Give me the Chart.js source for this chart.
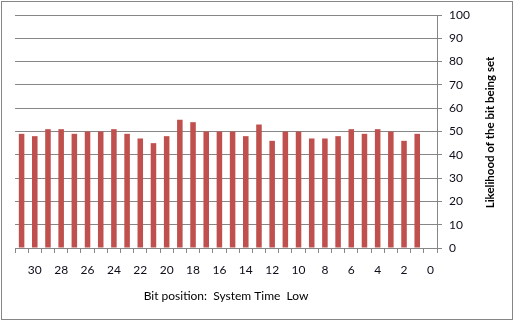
<!DOCTYPE html>
<html>
<head>
<meta charset="utf-8">
<script src="https://cdn.jsdelivr.net/npm/chart.js@4/dist/chart.umd.min.js"></script>
<style>
  html, body { margin: 0; padding: 0; background: #fff; }
  #wrap { width: 515px; height: 322px; position: relative; }
</style>
</head>
<body>
<div id="wrap"><canvas id="bitChart"></canvas></div>
<script>
// Bit positions, most significant first (as shown left to right)
const bitLabels = ["31", "30", "29", "28", "27", "26", "25", "24", "23", "22", "21", "20", "19", "18", "17", "16",
  "15", "14", "13", "12", "11", "10", "9", "8", "7", "6", "5", "4", "3", "2", "1", "0"];
const likelihood = [49, 48, 51, 51, 49, 50, 50, 51, 49, 47, 45, 48, 55, 54, 50, 50,
  50, 48, 53, 46, 50, 50, 47, 47, 48, 51, 49, 51, 50, 46, 49, null];
const yTicks = { min: 0, max: 100, step: 10 };
const xTitle = "Bit position:  System Time  Low";
const yTitle = "Likelihood of the bit being set";

const GRID = "#868686";
const TEXT = "#0d0d1a";
const FONT = "Lato, 'Open Sans', sans-serif";

const frameAndTitle = {
  id: "frameAndTitle",
  beforeDraw(chart) {
    const { ctx, width, height } = chart;
    ctx.save();
    ctx.fillStyle = "#fff";
    ctx.fillRect(0, 0, width, height);
    ctx.strokeStyle = GRID;
    ctx.lineWidth = 1;
    ctx.strokeRect(1.5, 1.5, width - 4, height - 4);
    ctx.restore();
  },
  afterDraw(chart) {
    // right-side axis title reads bottom-to-top
    const { ctx, chartArea } = chart;
    ctx.save();
    ctx.translate(490, (chartArea.top + chartArea.bottom) / 2 + 1);
    ctx.rotate(-Math.PI / 2);
    ctx.font = "bold 11.5px " + FONT;
    ctx.fillStyle = "#000";
    ctx.textAlign = "center";
    ctx.textBaseline = "middle";
    ctx.fillText(yTitle, 0, 0);
    ctx.restore();
  },
};

new Chart(document.getElementById("bitChart"), {
  type: "bar",
  data: {
    labels: bitLabels,
    datasets: [
      {
        data: likelihood,
        backgroundColor: "#C0504D",
        barPercentage: 0.42,
        categoryPercentage: 1,
      },
    ],
  },
  options: {
    responsive: true,
    maintainAspectRatio: false,
    animation: false,
    layout: { padding: { left: 15, top: 15, right: 0, bottom: 0 } },
    plugins: { legend: { display: false }, tooltip: { enabled: false } },
    scales: {
      x: {
        afterFit: (s) => { s.height = 74; },
        grid: { drawOnChartArea: false, color: GRID, tickLength: 5 },
        border: { color: GRID },
        ticks: {
          autoSkip: false,
          maxRotation: 0,
          padding: 10,
          color: TEXT,
          font: { family: FONT, size: 12 },
          callback: function (v) {
            const lbl = this.getLabelForValue(v);
            return Number(lbl) % 2 === 0 ? lbl : "";
          },
        },
        title: {
          display: true,
          text: xTitle,
          color: "#000",
          font: { family: FONT, size: 12 },
          padding: { top: 0, bottom: 19 },
        },
      },
      y: {
        position: "right",
        min: yTicks.min,
        max: yTicks.max,
        afterFit: (s) => { s.width = 78; },
        grid: { color: GRID, tickLength: 5 },
        border: { color: GRID },
        ticks: {
          stepSize: yTicks.step,
          padding: 7,
          color: TEXT,
          font: { family: FONT, size: 12 },
        },
      },
    },
  },
  plugins: [frameAndTitle],
});
</script>
</body>
</html>
